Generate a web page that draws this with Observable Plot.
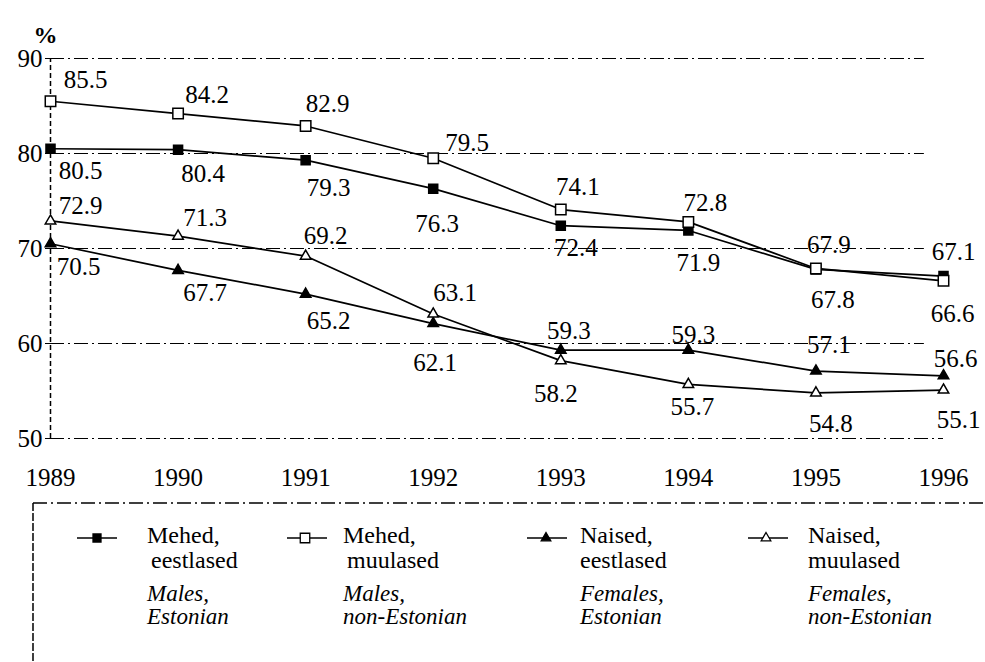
<!DOCTYPE html>
<html><head><meta charset="utf-8">
<script src="https://cdn.jsdelivr.net/npm/d3@7"></script>
<script src="https://cdn.jsdelivr.net/npm/@observablehq/plot@0.6"></script>
<style>
body{margin:0;background:#fff;font-family:"Liberation Serif","Times New Roman",Times,Tinos,"DejaVu Serif","Noto Serif",Georgia,serif;}
#chart,#legend{width:985px;}
svg{display:block;}
svg text{font-family:"Liberation Serif","Times New Roman",Times,Tinos,"DejaVu Serif","Noto Serif",Georgia,serif;}
</style></head><body><div id="chart"></div><div id="legend"></div>
<script>
// ---- data ----
const years = [1989, 1990, 1991, 1992, 1993, 1994, 1995, 1996];
const malesEstonian = [80.5, 80.4, 79.3, 76.3, 72.4, 71.9, 67.8, 67.1];
const malesNonEstonian = [85.5, 84.2, 82.9, 79.5, 74.1, 72.8, 67.9, 66.6];
const femalesEstonian = [70.5, 67.7, 65.2, 62.1, 59.3, 59.3, 57.1, 56.6];
const femalesNonEstonian = [72.9, 71.3, 69.2, 63.1, 58.2, 55.7, 54.8, 55.1];
const yTicks = [50, 60, 70, 80, 90];
const legendEt = [["Mehed,", "eestlased"], ["Mehed,", "muulased"], ["Naised,", "eestlased"], ["Naised,", "muulased"]];
const legendEn = [["Males,", "Estonian"], ["Males,", "non-Estonian"], ["Females,", "Estonian"], ["Females,", "non-Estonian"]];

// ---- label placement (pixel offsets from each point) ----
const offMalesEst = [[30,22],[25,24],[23,28],[4,35],[15,22],[10,33],[17,31],[10,-24]];
const offMalesNon = [[35,-21],[29,-19],[22,-22],[34,-15],[17,-23],[17,-19],[13,-23],[9,33]];
const offFemEst = [[28,23],[27,23],[23,27],[2,39],[8,-19],[5,-15],[13,-26],[12,-17]];
const offFemNon = [[30,-15],[27,-18],[20,-20],[22,-21],[-5,33],[4,23],[15,31],[15,30]];

const FONT = '"Liberation Serif","Times New Roman",Times,Tinos,"DejaVu Serif","Noto Serif",Georgia,serif';
const series = [
  {values: malesEstonian, symbol: "square", fill: "black", r: 5.1, off: offMalesEst},
  {values: malesNonEstonian, symbol: "square", fill: "white", r: 5.9, off: offMalesNon},
  {values: femalesEstonian, symbol: "triangle", fill: "black", r: 3.9, off: offFemEst},
  {values: femalesNonEstonian, symbol: "triangle", fill: "white", r: 3.9, off: offFemNon}
];

const marks = [];
marks.push(Plot.ruleY(yTicks, {x1: 1989, x2: d => d === 50 ? 1996 : 1995.85, stroke: "black", strokeWidth: 1.2, strokeDasharray: "14,4,2,4"}));
marks.push(Plot.ruleX([1989], {y1: 50, y2: 90, stroke: "black", strokeWidth: 1.5, strokeDasharray: "5,3"}));
marks.push(Plot.axisY({ticks: yTicks, tickSize: 5, tickPadding: 3, fontSize: 25, label: null}));
marks.push(Plot.axisX({ticks: years, tickFormat: d => String(d), tickSize: 0, tickPadding: 30, fontSize: 25, label: null}));
for (const s of series) {
  const rows = years.map((yr, i) => ({year: yr, value: s.values[i]}));
  marks.push(Plot.line(rows, {x: "year", y: "value", stroke: "black", strokeWidth: 1.7}));
}
for (const s of series) {
  const rows = years.map((yr, i) => ({year: yr, value: s.values[i]}));
  marks.push(Plot.dot(rows, {x: "year", y: "value", symbol: () => s.symbol, r: s.r, fill: s.fill, stroke: "black", strokeWidth: 1.5}));
  rows.forEach((row, i) => {
    marks.push(Plot.text([row], {x: "year", y: "value", text: d => d.value.toFixed(1), dx: s.off[i][0], dy: s.off[i][1], fontSize: 25, fill: "black"}));
  });
}
marks.push(Plot.text(["%"], {frameAnchor: "top-left", dx: -17, dy: -33, fontSize: 24, fontWeight: "bold", fill: "black"}));

const chart = Plot.plot({
  width: 985, height: 495,
  marginLeft: 50, marginRight: 42, marginTop: 58, marginBottom: 57,
  x: {domain: [1989, 1996], axis: null, label: null},
  y: {domain: [50, 90], axis: null, label: null},
  style: {fontFamily: FONT, fontSize: "25px", color: "black", background: "white"},
  marks
});
document.getElementById("chart").append(chart);

// ---- legend ----
const lsvg = d3.select("#legend").append("svg").attr("width", 985).attr("height", 167)
  .attr("font-family", FONT);
lsvg.append("line").attr("x1", 33).attr("x2", 985).attr("y1", 8).attr("y2", 8)
  .attr("stroke", "black").attr("stroke-width", 1.5).attr("stroke-dasharray", "14,4,2,4");
lsvg.append("line").attr("x1", 33).attr("x2", 33).attr("y1", 8).attr("y2", 167)
  .attr("stroke", "black").attr("stroke-width", 1.5).attr("stroke-dasharray", "8,2");
const legX = [{line: 77, sym: 97, text: 147, indent: 4}, {line: 287, sym: 305, text: 343, indent: 4},
              {line: 527, sym: 546, text: 580, indent: 0}, {line: 748, sym: 766, text: 808, indent: 0}];
const legSym = [
  {type: d3.symbolSquare, size: 64, fill: "black"},
  {type: d3.symbolSquare, size: 90, fill: "white"},
  {type: d3.symbolTriangle, size: 40, fill: "black"},
  {type: d3.symbolTriangle, size: 40, fill: "white"}
];
legX.forEach((p, i) => {
  const g = lsvg.append("g");
  g.append("line").attr("x1", p.line).attr("x2", p.line + 40).attr("y1", 43).attr("y2", 43)
    .attr("stroke", "black").attr("stroke-width", 1.6);
  g.append("path").attr("d", d3.symbol(legSym[i].type, legSym[i].size)())
    .attr("transform", `translate(${p.sym},43)`).attr("fill", legSym[i].fill)
    .attr("stroke", "black").attr("stroke-width", 1.3);
  g.append("text").attr("x", p.text).attr("y", 40).attr("dy", "0.35em").attr("font-size", 24).text(legendEt[i][0]);
  g.append("text").attr("x", p.text + p.indent).attr("y", 65).attr("dy", "0.35em").attr("font-size", 24).text(legendEt[i][1]);
  g.append("text").attr("x", p.text).attr("y", 98).attr("dy", "0.35em").attr("font-size", 23).attr("font-style", "italic").text(legendEn[i][0]);
  g.append("text").attr("x", p.text).attr("y", 121).attr("dy", "0.35em").attr("font-size", 23).attr("font-style", "italic").text(legendEn[i][1]);
});
</script>
</body></html>
